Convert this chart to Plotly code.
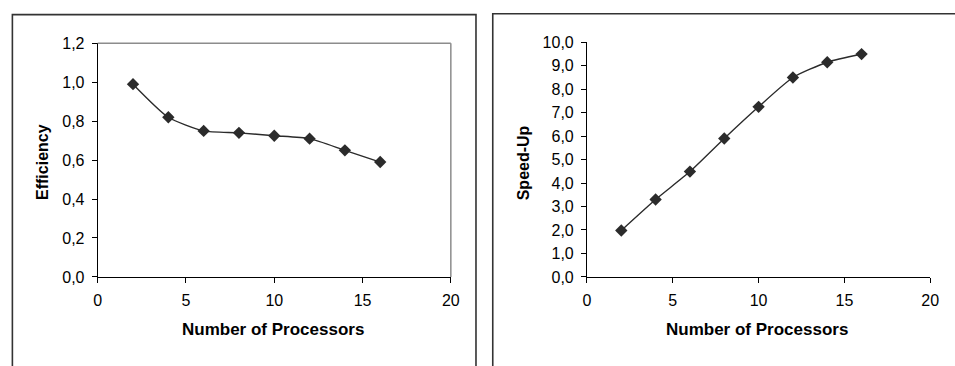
import plotly.graph_objects as go

processors = [2, 4, 6, 8, 10, 12, 14, 16]
efficiency = [0.99, 0.82, 0.75, 0.74, 0.725, 0.71, 0.65, 0.59]
speedup = [1.98, 3.3, 4.49, 5.9, 7.25, 8.5, 9.15, 9.5]

x_ticks = [0, 5, 10, 15, 20]
eff_ticks = [0.0, 0.2, 0.4, 0.6, 0.8, 1.0, 1.2]
sp_ticks = [0, 1, 2, 3, 4, 5, 6, 7, 8, 9, 10]

W, H = 955, 366
FONT = "Liberation Sans, Arial, sans-serif"
INK = "#2b2b2b"

def px(x):
    return x / W

def py(y):
    return 1 - y / H

fig = go.Figure()

fig.add_trace(go.Scatter(
    x=processors, y=efficiency, mode="lines+markers",
    line=dict(color=INK, width=1.4, shape="spline", smoothing=0.6),
    marker=dict(symbol="diamond", size=9.5, color=INK),
    xaxis="x", yaxis="y", showlegend=False))

fig.add_trace(go.Scatter(
    x=processors, y=speedup, mode="lines+markers",
    line=dict(color=INK, width=1.4, shape="spline", smoothing=0.6),
    marker=dict(symbol="diamond", size=9.5, color=INK),
    xaxis="x2", yaxis="y2", showlegend=False))

axis_common = dict(
    showgrid=False, zeroline=False, showline=True, linecolor="black",
    linewidth=1, ticks="outside", ticklen=5, tickwidth=1, tickcolor="black",
    ticklabelstandoff=4,
    tickfont=dict(family=FONT, size=16, color="black"),
)

fig.update_layout(
    width=W, height=H,
    margin=dict(l=0, r=0, t=0, b=0),
    paper_bgcolor="white", plot_bgcolor="white",
    separators=", ",
    xaxis=dict(domain=[px(95), px(453)], range=[0, 20], tickvals=x_ticks,
               anchor="y", **axis_common),
    yaxis=dict(domain=[py(282), py(37)], range=[0, 1.2], tickvals=eff_ticks,
               tickformat=".1f", anchor="x", **axis_common),
    xaxis2=dict(domain=[px(591), px(939)], range=[0, 20], tickvals=x_ticks,
                anchor="y2", **axis_common),
    yaxis2=dict(domain=[py(282), py(36)], range=[0, 10], tickvals=sp_ticks,
                tickformat=".1f", anchor="x2", **axis_common),
)

# gray plot-area border (top and right) for left chart
fig.add_shape(type="line", xref="paper", yref="paper",
              x0=px(95), x1=px(453), y0=py(37), y1=py(37),
              line=dict(color="#8c8c8c", width=1.5))
fig.add_shape(type="line", xref="paper", yref="paper",
              x0=px(453), x1=px(453), y0=py(37), y1=py(282),
              line=dict(color="#8c8c8c", width=1.5))

# panel frames
fig.add_shape(type="rect", xref="paper", yref="paper",
              x0=px(8.5), x1=px(478.5), y0=py(7), y1=py(380),
              line=dict(color="#333333", width=1.6))
fig.add_shape(type="rect", xref="paper", yref="paper",
              x0=px(495.5), x1=px(970), y0=py(6), y1=py(380),
              line=dict(color="#333333", width=1.6))

xt_font = dict(family=FONT, size=17, color="black")
yt_font = dict(family=FONT, size=16, color="black")
fig.add_annotation(text="<b>Number of Processors</b>", xref="paper", yref="paper",
                   x=px(273), y=py(337), showarrow=False, font=xt_font,
                   xanchor="center", yanchor="middle")
fig.add_annotation(text="<b>Number of Processors</b>", xref="paper", yref="paper",
                   x=px(763), y=py(337), showarrow=False, font=xt_font,
                   xanchor="center", yanchor="middle")
fig.add_annotation(text="<b>Efficiency</b>", xref="paper", yref="paper",
                   x=px(39), y=py(161), showarrow=False, font=yt_font,
                   textangle=-90, xanchor="center", yanchor="middle")
fig.add_annotation(text="<b>Speed-Up</b>", xref="paper", yref="paper",
                   x=px(527), y=py(162), showarrow=False, font=yt_font,
                   textangle=-90, xanchor="center", yanchor="middle")

fig.write_html("out.html", config={"displayModeBar": False})
